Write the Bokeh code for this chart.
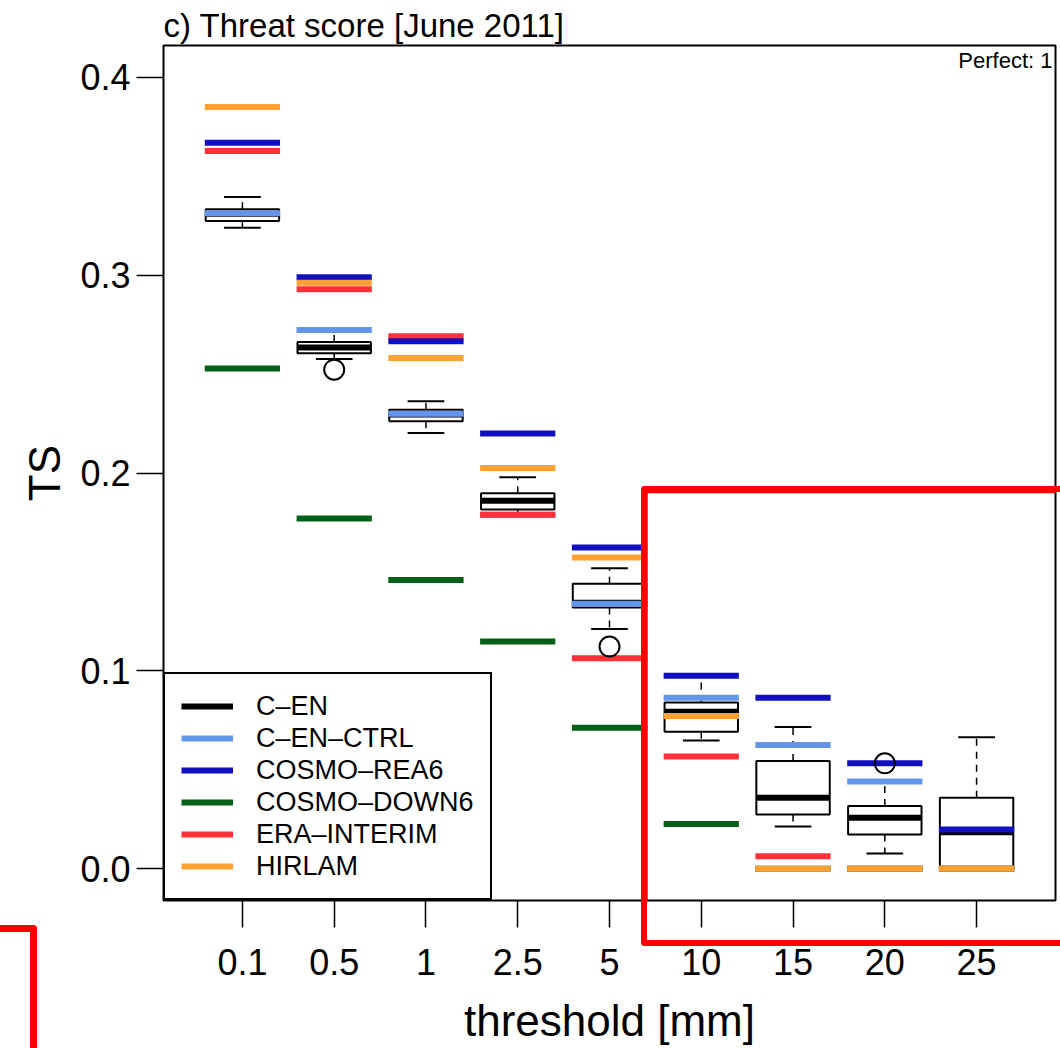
from bokeh.plotting import figure
from bokeh.models import (FixedTicker, Legend, LegendItem, Label, BoxAnnotation,
                          Range1d, PrintfTickFormatter, InlineStyleSheet)
from bokeh.embed import file_html
from bokeh.resources import INLINE

# Precipitation thresholds [mm]
thresholds = ["0.1", "0.5", "1", "2.5", "5", "10", "15", "20", "25"]

# C-EN ensemble: five-number summary per threshold
cen_low = [0.3239, 0.2576, 0.2202, 0.1789, 0.1212, 0.0649, 0.0214, 0.0077, 0.0]
cen_q1 = [0.3273, 0.2605, 0.2261, 0.1816, 0.1320, 0.0693, 0.0275, 0.0173, 0.0]
cen_med = [0.3310, 0.2634, 0.2295, 0.1860, 0.1345, 0.0794, 0.0359, 0.0258, 0.0185]
cen_q3 = [0.3333, 0.2662, 0.2320, 0.1898, 0.1440, 0.0841, 0.0545, 0.0317, 0.0359]
cen_high = [0.3394, 0.2715, 0.2362, 0.1979, 0.1519, 0.0970, 0.0717, 0.0441, 0.0665]

# C-EN outlying members (threshold index, score)
out_idx = [2, 5, 8]
out_ts = [0.2522, 0.1123, 0.0533]

# Deterministic models
cen_ctrl = [0.3312, 0.2723, 0.2300, 0.1789, 0.1340, 0.0865, 0.0626, 0.0441, 0.0]
cosmo_rea6 = [0.3669, 0.2989, 0.2666, 0.2199, 0.1624, 0.0976, 0.0865, 0.0533, 0.0199]
cosmo_down6 = [0.2528, 0.1770, 0.1459, 0.1149, 0.0713, 0.0226, 0.0, 0.0, 0.0]
era_interim = [0.3627, 0.2929, 0.2691, 0.1789, 0.1064, 0.0567, 0.0064, 0.0, 0.0]
hirlam = [0.3849, 0.2961, 0.2581, 0.2025, 0.1573, 0.0772, 0.0, 0.0, 0.0]

FONT = "Liberation Sans"
xs = list(range(1, len(thresholds) + 1))
HALF_BOX = 0.4
HALF_CAP = 0.2
HALF_LINE = 0.41

p = figure(width=1060, height=1048,
           x_range=Range1d(0.14, 9.86), y_range=Range1d(-0.016, 0.416),
           output_backend="svg", toolbar_location=None,
           min_border_left=163, min_border_right=5,
           min_border_top=45, min_border_bottom=148)

p.background_fill_color = "white"
p.border_fill_color = "white"
p.outline_line_color = "black"
p.outline_line_width = 2
p.outline_line_alpha = 1
p.xgrid.visible = False
p.ygrid.visible = False

# Title
p.title.text = "c) Threat score [June 2011]"
p.title.text_font = FONT
p.title.text_font_size = "33px"
p.title.text_font_style = "normal"
p.title.text_color = "black"
p.title.align = "left"
p.title.standoff = 4

# Axes
for ax in (p.xaxis[0], p.yaxis[0]):
    ax.axis_line_color = None
    ax.major_tick_line_color = "black"
    ax.major_tick_line_width = 1.5
    ax.major_tick_in = 0
    ax.major_tick_out = 27
    ax.minor_tick_line_color = None
    ax.major_label_text_font = FONT
    ax.major_label_text_font_size = "36px"
    ax.major_label_text_color = "black"
    ax.axis_label_text_font = FONT
    ax.axis_label_text_font_size = "44px"
    ax.axis_label_text_font_style = "normal"
    ax.axis_label_text_color = "black"

p.xaxis.ticker = FixedTicker(ticks=xs)
p.xaxis.major_label_overrides = {x: t for x, t in zip(xs, thresholds)}
p.xaxis.major_label_standoff = 21
p.xaxis.axis_label = "threshold [mm]"
p.xaxis.axis_label_standoff = 18

p.yaxis.ticker = FixedTicker(ticks=[0.0, 0.1, 0.2, 0.3, 0.4])
p.yaxis.formatter = PrintfTickFormatter(format="%.1f")
p.yaxis.major_label_standoff = 6
p.yaxis.axis_label = "TS"
p.yaxis.axis_label_standoff = 8

# Boxplots of the ensemble
p.quad(left=[x - HALF_BOX for x in xs], right=[x + HALF_BOX for x in xs],
       bottom=cen_q1, top=cen_q3, fill_color=None,
       line_color="black", line_width=2)
p.segment(x0=xs, x1=xs, y0=cen_q3, y1=cen_high, line_color="black",
          line_width=1.5, line_dash="7 6")
p.segment(x0=xs, x1=xs, y0=cen_q1, y1=cen_low, line_color="black",
          line_width=1.5, line_dash="7 6")
p.segment(x0=[x - HALF_CAP for x in xs], x1=[x + HALF_CAP for x in xs],
          y0=cen_high, y1=cen_high, line_color="black", line_width=2)
p.segment(x0=[x - HALF_CAP for x in xs], x1=[x + HALF_CAP for x in xs],
          y0=cen_low, y1=cen_low, line_color="black", line_width=2)
med_r = p.segment(x0=[x - HALF_BOX for x in xs], x1=[x + HALF_BOX for x in xs],
                  y0=cen_med, y1=cen_med, line_color="black", line_width=6,
                  line_cap="butt")

# Model scores as horizontal bars per threshold
models = [
    ("C–EN–CTRL", cen_ctrl, "#6495ED"),
    ("ERA–INTERIM", era_interim, "#FF3038"),
    ("COSMO–DOWN6", cosmo_down6, "#056017"),
    ("COSMO–REA6", cosmo_rea6, "#1010C0"),
    ("HIRLAM", hirlam, "#FFA033"),
]
model_r = {}
for name, vals, col in models:
    model_r[name] = p.segment(x0=[x - HALF_LINE for x in xs],
                              x1=[x + HALF_LINE for x in xs],
                              y0=vals, y1=vals, line_color=col,
                              line_width=6, line_cap="butt")

p.scatter(x=out_idx, y=out_ts, marker="circle", size=20, fill_color=None,
          line_color="black", line_width=2)

# Legend
order = ["C–EN–CTRL", "COSMO–REA6", "COSMO–DOWN6", "ERA–INTERIM", "HIRLAM"]
items = [LegendItem(label="C–EN", renderers=[med_r])]
items += [LegendItem(label=n, renderers=[model_r[n]]) for n in order]
legend = Legend(items=items, location="bottom_left", margin=0,
                padding=16, spacing=0,
                label_text_font=FONT, label_text_font_size="27px",
                label_text_color="black",
                label_height=32, glyph_height=32, glyph_width=52,
                label_standoff=23,
                border_line_color="black", border_line_width=2,
                border_line_alpha=1,
                background_fill_color="white", background_fill_alpha=1)
p.add_layout(legend, "center")

p.add_layout(Label(x=9.86, y=0.416, text="Perfect: 1", text_align="right",
                   text_baseline="top", x_offset=-3, y_offset=-2,
                   text_font=FONT, text_font_size="22px", text_color="black"))

# Red highlight frames (canvas pixels); the in-frame part is a BoxAnnotation,
# the parts reaching into the margins are drawn as CSS outlines on the host
p.add_layout(BoxAnnotation(left=644, right=1200, top=489.5, bottom=941.5,
                           left_units="canvas", right_units="canvas",
                           top_units="canvas", bottom_units="canvas",
                           fill_alpha=0, line_color="#FF0000",
                           line_alpha=1, line_width=6.5))
highlight_css = InlineStyleSheet(css="""
:host { position: relative; }
:host::before {
  content: ""; position: absolute; box-sizing: border-box;
  left: 641px; top: 486px; width: 419px; height: 460px;
  border: 6.5px solid #FF0000; border-right: none;
  border-radius: 4px 0 0 4px; pointer-events: none; z-index: 10;
}
:host::after {
  content: ""; position: absolute; box-sizing: border-box;
  left: 0px; top: 925px; width: 37px; height: 123px;
  border: 7px solid #FF0000; border-left: none; border-bottom: none;
  border-radius: 0 4px 0 0; pointer-events: none; z-index: 10;
}
""")
p.stylesheets = [highlight_css]

open("out.html", "w").write(file_html(p, INLINE))
